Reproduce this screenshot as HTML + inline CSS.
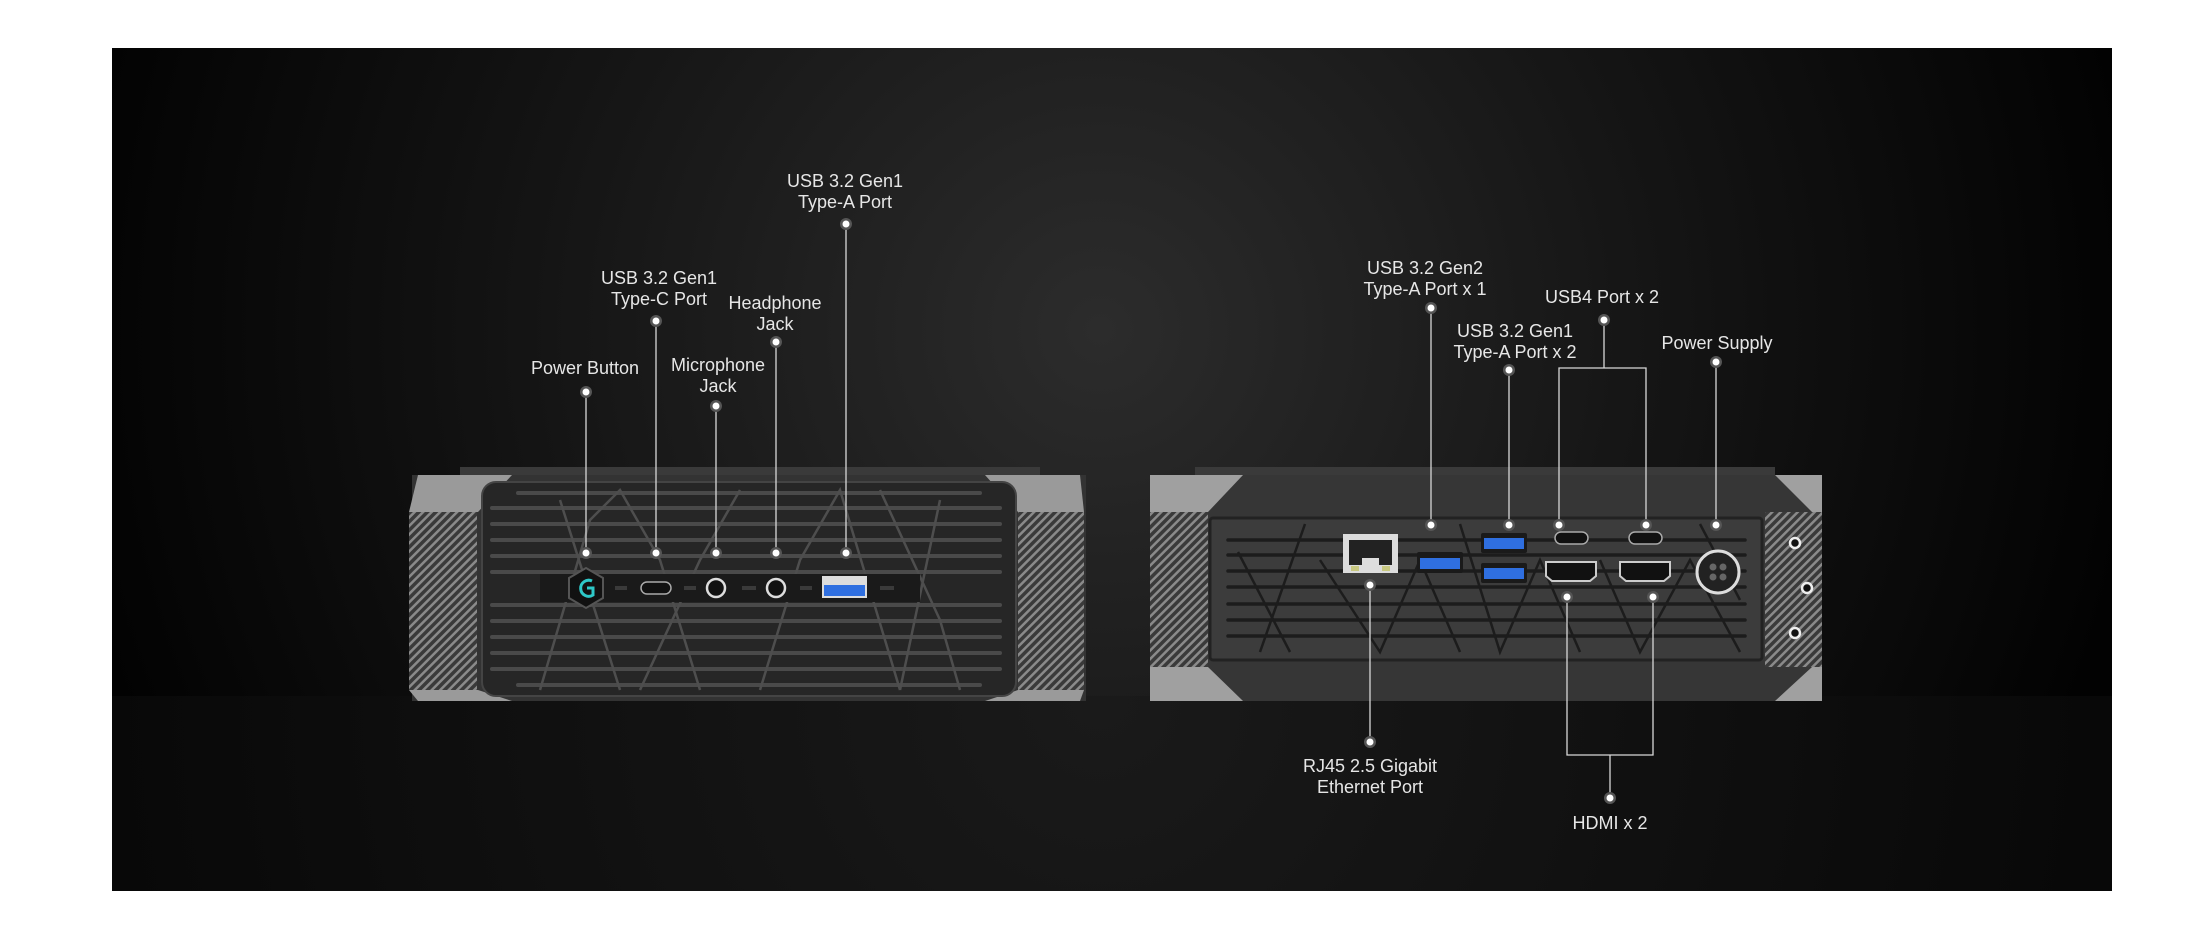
<!DOCTYPE html>
<html><head><meta charset="utf-8"><style>
html,body{margin:0;padding:0;background:#fff;}
svg{display:block;}
text{font-family:"Liberation Sans",sans-serif;font-size:18px;fill:#e6e6e6;text-anchor:middle;}
</style></head><body>
<svg width="2200" height="928" viewBox="0 0 2200 928" xmlns="http://www.w3.org/2000/svg">
<defs>
<radialGradient id="bg" cx="1100" cy="330" r="1050" gradientUnits="userSpaceOnUse">
<stop offset="0" stop-color="#2c2c2c"/><stop offset="0.5" stop-color="#161616"/><stop offset="1" stop-color="#020202"/>
</radialGradient>
<radialGradient id="fl" cx="1100" cy="700" r="1000" gradientUnits="userSpaceOnUse">
<stop offset="0" stop-color="#1a1a1a"/><stop offset="1" stop-color="#080808"/>
</radialGradient>
<pattern id="hatch" width="6" height="6" patternUnits="userSpaceOnUse" patternTransform="rotate(45)">
<rect width="6" height="6" fill="#3a3a3a"/><rect width="2.5" height="6" fill="#8a8a8a"/>
</pattern>
<g id="dot"><circle r="6" fill="#555"/><circle r="3.5" fill="#fff"/></g>
</defs>
<rect x="112" y="48" width="2000" height="843" fill="url(#bg)"/>
<rect x="112" y="696" width="2000" height="195" fill="url(#fl)"/>

<!-- LEFT DEVICE -->
<g>
<rect x="460" y="467" width="580" height="10" fill="#3a3a3a"/>
<rect x="412" y="475" width="674" height="226" fill="#333"/>
<polygon points="418,475 512,475 478,512 409,512" fill="#9a9a9a"/>
<polygon points="409,690 478,690 512,701 418,701" fill="#9a9a9a"/>
<polygon points="985,475 1080,475 1084,512 1018,512" fill="#9a9a9a"/>
<polygon points="1018,690 1084,690 1080,701 985,701" fill="#9a9a9a"/>
<rect x="409" y="512" width="68" height="178" fill="url(#hatch)"/>
<rect x="1018" y="512" width="66" height="178" fill="url(#hatch)"/>
<rect x="482" y="482" width="534" height="214" rx="14" fill="#262626" stroke="#444" stroke-width="2"/>
<g stroke="#4a4a4a" stroke-width="4" stroke-linecap="round">
<line x1="518" y1="493" x2="980" y2="493"/><line x1="492" y1="508" x2="1000" y2="508"/>
<line x1="492" y1="524" x2="1000" y2="524"/><line x1="492" y1="540" x2="1000" y2="540"/>
<line x1="492" y1="556" x2="1000" y2="556"/><line x1="492" y1="572" x2="1000" y2="572"/>
<line x1="492" y1="605" x2="1000" y2="605"/><line x1="492" y1="621" x2="1000" y2="621"/>
<line x1="492" y1="637" x2="1000" y2="637"/><line x1="492" y1="653" x2="1000" y2="653"/>
<line x1="492" y1="669" x2="1000" y2="669"/><line x1="518" y1="685" x2="980" y2="685"/>
</g>
<g stroke="#4e4e4e" stroke-width="2.5" fill="none">
<polyline points="540,690 590,520 620,490 660,560 700,690"/><polyline points="640,690 700,560 740,490"/>
<polyline points="760,690 800,560 840,490 900,690"/><polyline points="880,490 940,620 960,690"/>
<polyline points="560,500 620,690"/><polyline points="940,500 900,690"/>
</g>
<rect x="540" y="574" width="380" height="28" fill="#1a1a1a"/>
<polygon points="586,568 603,578 603,598 586,608 569,598 569,578" fill="#111" stroke="#555" stroke-width="2"/>
<path d="M592,581 A8,8 0 1 0 593,595 L593,588 L587,588" fill="none" stroke="#2ec8c8" stroke-width="3"/>
<rect x="641" y="582" width="30" height="12" rx="6" fill="#111" stroke="#aaa" stroke-width="1.5"/>
<circle cx="716" cy="588" r="9" fill="#111" stroke="#ddd" stroke-width="2.5"/>
<circle cx="776" cy="588" r="9" fill="#111" stroke="#ddd" stroke-width="2.5"/>
<rect x="822" y="576" width="45" height="22" fill="#ddd"/>
<rect x="824" y="585" width="41" height="11" fill="#2f6fe0"/>
<g fill="#3a3a3a"><rect x="615" y="586" width="12" height="4"/><rect x="684" y="586" width="12" height="4"/><rect x="742" y="586" width="14" height="4"/><rect x="800" y="586" width="12" height="4"/><rect x="880" y="586" width="14" height="4"/></g>
</g>

<!-- RIGHT DEVICE -->
<g>
<rect x="1195" y="467" width="580" height="10" fill="#3a3a3a"/>
<rect x="1150" y="475" width="672" height="226" fill="#a0a0a0"/>
<polygon points="1243,475 1775,475 1812,512 1812,667 1775,701 1243,701 1208,667 1208,512" fill="#363636"/>
<rect x="1150" y="512" width="58" height="155" fill="url(#hatch)"/>
<rect x="1765" y="512" width="57" height="155" fill="url(#hatch)"/>
<rect x="1210" y="518" width="552" height="142" rx="3" fill="#3c3c3c" stroke="#222" stroke-width="3"/>
<g stroke="#1c1c1c" stroke-width="3.5" stroke-linecap="round">
<line x1="1228" y1="540" x2="1745" y2="540"/><line x1="1228" y1="555" x2="1745" y2="555"/>
<line x1="1228" y1="571" x2="1745" y2="571"/><line x1="1228" y1="587" x2="1745" y2="587"/>
<line x1="1228" y1="604" x2="1745" y2="604"/><line x1="1228" y1="620" x2="1745" y2="620"/>
<line x1="1228" y1="636" x2="1745" y2="636"/>
</g>
<g stroke="#1c1c1c" stroke-width="2.5" fill="none">
<polyline points="1238,552 1290,652"/><polyline points="1305,524 1260,652"/>
<polyline points="1320,560 1380,652 1420,560 1460,652"/><polyline points="1460,524 1500,652 1540,560 1580,652"/>
<polyline points="1600,560 1640,652 1690,560 1740,652"/><polyline points="1700,524 1740,600"/>
</g>
<rect x="1343" y="534" width="55" height="39" fill="#ddd"/>
<rect x="1349" y="540" width="43" height="25" fill="#222"/>
<rect x="1362" y="558" width="17" height="10" fill="#ddd"/>
<rect x="1351" y="566" width="8" height="5" fill="#c8c880"/><rect x="1382" y="566" width="8" height="5" fill="#c8c880"/>
<rect x="1417" y="552" width="46" height="21" rx="2" fill="#1a1a1a"/><rect x="1420" y="558" width="40" height="11" fill="#2f6fe0"/>
<rect x="1481" y="533" width="46" height="20" rx="2" fill="#1a1a1a"/><rect x="1484" y="538" width="40" height="11" fill="#2f6fe0"/>
<rect x="1481" y="563" width="46" height="20" rx="2" fill="#1a1a1a"/><rect x="1484" y="568" width="40" height="11" fill="#2f6fe0"/>
<rect x="1555" y="532" width="33" height="12" rx="6" fill="#111" stroke="#aaa" stroke-width="1.5"/>
<rect x="1629" y="532" width="33" height="12" rx="6" fill="#111" stroke="#aaa" stroke-width="1.5"/>
<polygon points="1546,562 1596,562 1596,576 1590,581 1552,581 1546,576" fill="#111" stroke="#ccc" stroke-width="2"/>
<polygon points="1620,562 1670,562 1670,576 1664,581 1626,581 1620,576" fill="#111" stroke="#ccc" stroke-width="2"/>
<circle cx="1718" cy="572" r="21" fill="#222" stroke="#ddd" stroke-width="3"/>
<g fill="#666"><circle cx="1713" cy="567" r="3.5"/><circle cx="1723" cy="567" r="3.5"/><circle cx="1713" cy="577" r="3.5"/><circle cx="1723" cy="577" r="3.5"/></g>
<g fill="#111" stroke="#eee" stroke-width="2.5"><circle cx="1795" cy="543" r="5"/><circle cx="1807" cy="588" r="5"/><circle cx="1795" cy="633" r="5"/></g>
</g>

<!-- CONNECTOR LINES -->
<g stroke="#d8d8d8" stroke-width="1.3" fill="none">
<line x1="586" y1="392" x2="586" y2="553"/>
<line x1="656" y1="321" x2="656" y2="553"/>
<line x1="716" y1="406" x2="716" y2="553"/>
<line x1="776" y1="342" x2="776" y2="553"/>
<line x1="846" y1="224" x2="846" y2="553"/>
<line x1="1431" y1="308" x2="1431" y2="525"/>
<line x1="1509" y1="370" x2="1509" y2="525"/>
<polyline points="1559,525 1559,368 1646,368 1646,525"/>
<line x1="1604" y1="320" x2="1604" y2="368"/>
<line x1="1716" y1="362" x2="1716" y2="525"/>
<line x1="1370" y1="585" x2="1370" y2="742"/>
<polyline points="1567,597 1567,755 1653,755 1653,597"/>
<line x1="1610" y1="755" x2="1610" y2="798"/>
</g>
<g>
<use href="#dot" x="586" y="392"/><use href="#dot" x="586" y="553"/>
<use href="#dot" x="656" y="321"/><use href="#dot" x="656" y="553"/>
<use href="#dot" x="716" y="406"/><use href="#dot" x="716" y="553"/>
<use href="#dot" x="776" y="342"/><use href="#dot" x="776" y="553"/>
<use href="#dot" x="846" y="224"/><use href="#dot" x="846" y="553"/>
<use href="#dot" x="1431" y="308"/><use href="#dot" x="1431" y="525"/>
<use href="#dot" x="1509" y="370"/><use href="#dot" x="1509" y="525"/>
<use href="#dot" x="1604" y="320"/><use href="#dot" x="1559" y="525"/><use href="#dot" x="1646" y="525"/>
<use href="#dot" x="1716" y="362"/><use href="#dot" x="1716" y="525"/>
<use href="#dot" x="1370" y="585"/><use href="#dot" x="1370" y="742"/>
<use href="#dot" x="1567" y="597"/><use href="#dot" x="1653" y="597"/><use href="#dot" x="1610" y="798"/>
</g>

<!-- LABELS -->
<text x="585" y="374">Power Button</text>
<text x="659" y="284">USB 3.2 Gen1</text><text x="659" y="305">Type-C Port</text>
<text x="718" y="371">Microphone</text><text x="718" y="392">Jack</text>
<text x="775" y="309">Headphone</text><text x="775" y="330">Jack</text>
<text x="845" y="187">USB 3.2 Gen1</text><text x="845" y="208">Type-A Port</text>
<text x="1425" y="274">USB 3.2 Gen2</text><text x="1425" y="295">Type-A Port x 1</text>
<text x="1515" y="337">USB 3.2 Gen1</text><text x="1515" y="358">Type-A Port x 2</text>
<text x="1602" y="303">USB4 Port x 2</text>
<text x="1717" y="349">Power Supply</text>
<text x="1370" y="772">RJ45 2.5 Gigabit</text><text x="1370" y="793">Ethernet Port</text>
<text x="1610" y="829">HDMI x 2</text>
</svg>
</body></html>
